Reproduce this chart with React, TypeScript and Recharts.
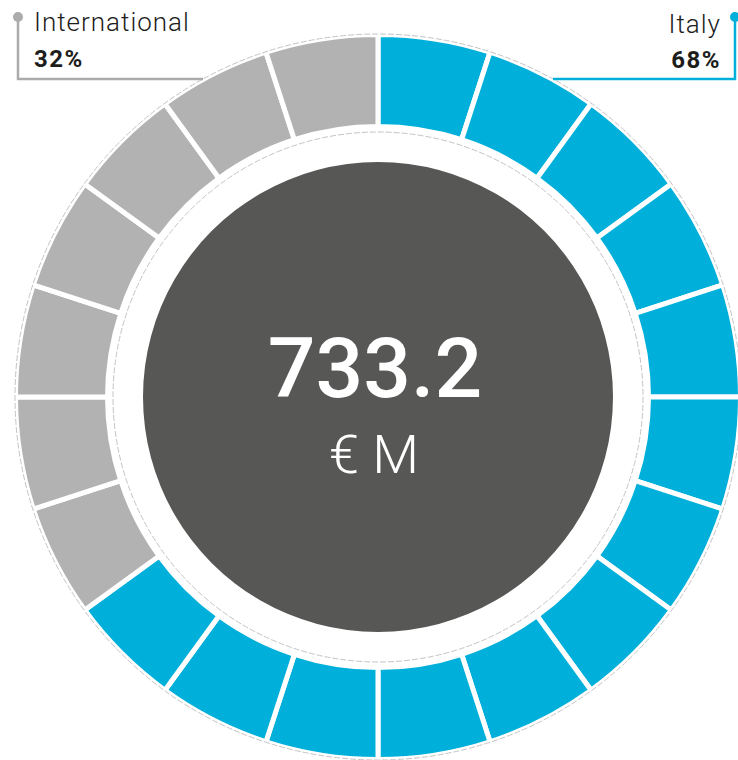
import React from "react";
import { PieChart, Pie, Cell } from "recharts";

// ---- data ----
const categories = ["Italy", "International"];
const shares = [68, 32];
const shareLabels = ["68%", "32%"];
const totalValue = "733.2";
const totalUnit = "€ M";
// ring of 20 equal tiles, clockwise from 12 o'clock
const segmentOwners = [
  "Italy", "Italy", "Italy", "Italy", "Italy",
  "Italy", "Italy", "Italy", "Italy", "Italy",
  "Italy", "Italy", "Italy",
  "International", "International", "International", "International",
  "International", "International", "International",
];
const centerDisc = [{ name: "total", value: 1 }];

// ---- styles ----
const COLORS: Record<string, string> = {
  Italy: "#00B0DA",
  International: "#B2B2B2",
};
const DARK = "#575756";
const W = 738;
const H = 760;
const CX = 378;
const CY = 397;
const FONT = "Roboto, 'Open Sans', sans-serif";

const segmentData = segmentOwners.map((owner, i) => ({ name: `${owner}-${i}`, owner, value: 1 }));

const Overlay = () => (
  <svg
    width={W}
    height={H}
    style={{ position: "absolute", left: 0, top: 0, pointerEvents: "none" }}
  >
    {/* dashed guide circles */}
    <circle cx={CX} cy={CY} r={363} fill="none" stroke="#c4c4c4" strokeWidth={1} strokeDasharray="6 2" />
    <circle cx={CX} cy={CY} r={265} fill="none" stroke="#c4c4c4" strokeWidth={1} strokeDasharray="6 2" />
    {/* International leader */}
    <polyline points={`18,18 18,79 203,79`} fill="none" stroke="#ABABAB" strokeWidth={2.5} />
    <circle cx={18} cy={17} r={5} fill="#ABABAB" />
    <text x={34} y={31} fontFamily={FONT} fontWeight={300} fontSize={26} letterSpacing={1} fill="#1d1d1b">
      {categories[1]}
    </text>
    <text x={34} y={67} fontFamily={FONT} fontWeight={700} fontSize={24} letterSpacing={1.5} fill="#1d1d1b">
      {shareLabels[1]}
    </text>
    {/* Italy leader */}
    <polyline points={`735,18 735,79 553,79`} fill="none" stroke="#00B0DA" strokeWidth={2.5} />
    <circle cx={735} cy={17} r={5} fill="#00B0DA" />
    <text x={721} y={33} textAnchor="end" fontFamily={FONT} fontWeight={300} fontSize={26} letterSpacing={1} fill="#1d1d1b">
      {categories[0]}
    </text>
    <text x={721} y={68} textAnchor="end" fontFamily={FONT} fontWeight={700} fontSize={24} letterSpacing={1.5} fill="#1d1d1b">
      {shareLabels[0]}
    </text>
    {/* center text */}
    <text x={375} y={397} textAnchor="middle" fontFamily={FONT} fontWeight={500} fontSize={84} fill="#ffffff">
      {totalValue}
    </text>
    <text x={374} y={473} textAnchor="middle" fontFamily={FONT} fontWeight={300} fontSize={54} fill="#ffffff">
      {totalUnit}
    </text>
  </svg>
);

export default function App() {
  void shares;
  return (
    <div style={{ position: "absolute", left: 0, top: 0, width: W, height: H, background: "#fff" }}>
      <PieChart width={W} height={H} margin={{ top: 0, right: 0, bottom: 0, left: 0 }}>
        <Pie
          data={centerDisc}
          dataKey="value"
          cx={CX}
          cy={CY}
          innerRadius={0}
          outerRadius={235}
          startAngle={90}
          endAngle={-270}
          stroke="none"
          isAnimationActive={false}
        >
          <Cell fill={DARK} />
        </Pie>
        <Pie
          data={segmentData}
          dataKey="value"
          cx={CX}
          cy={CY}
          innerRadius={270.5}
          outerRadius={362.5}
          startAngle={90}
          endAngle={-270}
          paddingAngle={0}
          isAnimationActive={false}
        >
          {segmentData.map((d) => (
            <Cell key={d.name} fill={COLORS[d.owner]} stroke="#ffffff" strokeWidth={5} />
          ))}
        </Pie>
      </PieChart>
      <Overlay />
    </div>
  );
}
